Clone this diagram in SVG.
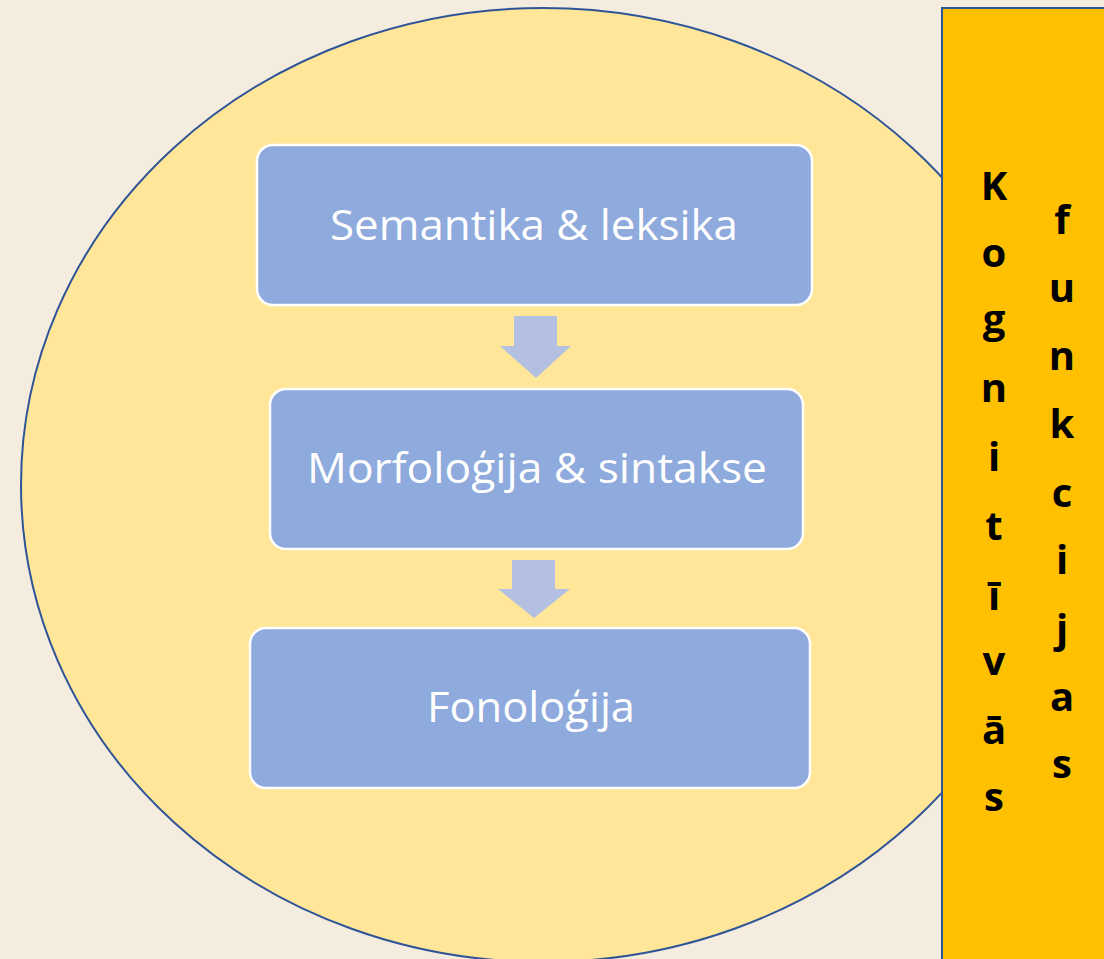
<svg xmlns="http://www.w3.org/2000/svg" width="1104" height="959" viewBox="0 0 1104 959">
<style>
.box{fill:#8FAADC;stroke:#FFFFFF;stroke-width:2.5}
.lbl{font-family:"Open Sans","Liberation Sans",sans-serif;font-size:42px;fill:#FFFFFF;text-anchor:middle}
.v{font-family:"Open Sans","Liberation Sans",sans-serif;font-weight:bold;font-size:40px;fill:#000000;text-anchor:middle}
.arr{fill:#B4C0E2}
</style>
<rect x="0" y="0" width="1104" height="959" fill="#F4ECDF"/>
<g id="circle">
<ellipse cx="543" cy="485" rx="522" ry="477" fill="#FFE699" stroke="#2F5597" stroke-width="2"/>
</g>
<g id="side">
<rect x="942" y="8" width="170" height="960" fill="#FFC000" stroke="#2F5597" stroke-width="2"/>
<text class="v" x="994" y="200">K</text>
<text class="v" x="994" y="267">o</text>
<text class="v" x="994" y="333">g</text>
<text class="v" x="994" y="402">n</text>
<text class="v" x="994" y="471">i</text>
<text class="v" x="994" y="540">t</text>
<text class="v" x="994" y="610">ī</text>
<text class="v" x="994" y="675">v</text>
<text class="v" x="994" y="744">ā</text>
<text class="v" x="994" y="811">s</text>
<text class="v" x="1062" y="234">f</text>
<text class="v" x="1062" y="302">u</text>
<text class="v" x="1062" y="370">n</text>
<text class="v" x="1062" y="438">k</text>
<text class="v" x="1062" y="507">c</text>
<text class="v" x="1062" y="574">i</text>
<text class="v" x="1062" y="643">j</text>
<text class="v" x="1062" y="711">a</text>
<text class="v" x="1062" y="778">s</text>
</g>
<g id="connectors">
<polygon class="arr" points="514,316 557,316 557,346 571,346 536,378 500,346 514,346"/>
<polygon class="arr" points="512,560 555,560 555,589 570,589 534,618 498,589 512,589"/>
</g>
<g id="n1">
<rect class="box" x="257" y="145" width="555" height="160" rx="16"/>
<text class="lbl" x="534" y="240" textLength="408" lengthAdjust="spacingAndGlyphs">Semantika &amp; leksika</text>
</g>
<g id="n2">
<rect class="box" x="270" y="389" width="533" height="160" rx="16"/>
<text class="lbl" x="537" y="483" textLength="460" lengthAdjust="spacingAndGlyphs">Morfoloģija &amp; sintakse</text>
</g>
<g id="n3">
<rect class="box" x="250" y="628" width="560" height="160" rx="16"/>
<text class="lbl" x="531" y="722" textLength="208" lengthAdjust="spacingAndGlyphs">Fonoloģija</text>
</g>
</svg>
